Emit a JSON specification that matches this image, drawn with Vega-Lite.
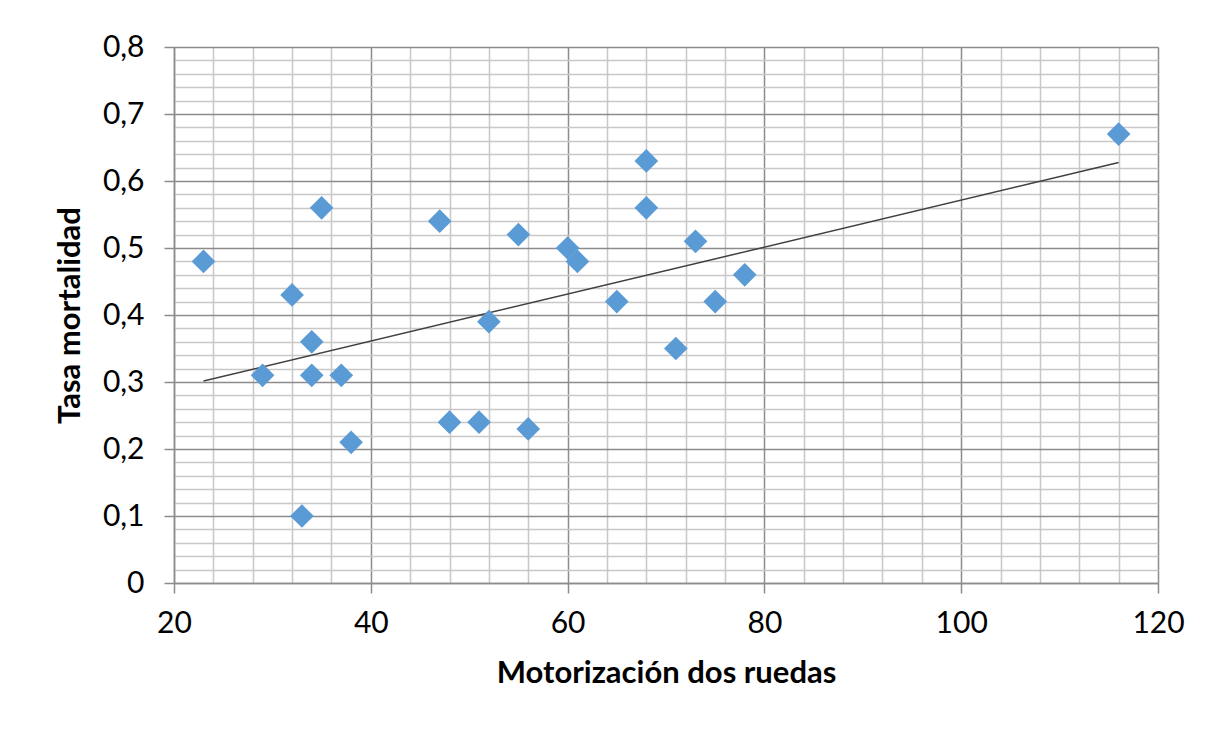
{
  "$schema": "https://vega.github.io/schema/vega-lite/v6.json",
  "autosize": "none",
  "width": 984,
  "height": 536,
  "padding": {"left": 174, "top": 47, "right": 58, "bottom": 153},
  "background": "white",
  "config": {"view": {"stroke": null}, "font": "Lato"},
  "datasets": {
    "points": [
      {"moto": 23, "tasa": 0.48},
      {"moto": 29, "tasa": 0.31},
      {"moto": 32, "tasa": 0.43},
      {"moto": 33, "tasa": 0.10},
      {"moto": 34, "tasa": 0.36},
      {"moto": 34, "tasa": 0.31},
      {"moto": 35, "tasa": 0.56},
      {"moto": 37, "tasa": 0.31},
      {"moto": 38, "tasa": 0.21},
      {"moto": 47, "tasa": 0.54},
      {"moto": 48, "tasa": 0.24},
      {"moto": 51, "tasa": 0.24},
      {"moto": 52, "tasa": 0.39},
      {"moto": 55, "tasa": 0.52},
      {"moto": 56, "tasa": 0.23},
      {"moto": 60, "tasa": 0.50},
      {"moto": 61, "tasa": 0.48},
      {"moto": 65, "tasa": 0.42},
      {"moto": 68, "tasa": 0.63},
      {"moto": 68, "tasa": 0.56},
      {"moto": 71, "tasa": 0.35},
      {"moto": 73, "tasa": 0.51},
      {"moto": 75, "tasa": 0.42},
      {"moto": 78, "tasa": 0.46},
      {"moto": 116, "tasa": 0.67}
    ],
    "trend": [
      {"moto": 23, "tasa": 0.3015},
      {"moto": 116, "tasa": 0.6275}
    ]
  },
  "layer": [
    {
      "data": {"name": "trend"},
      "mark": {"type": "line", "color": "#404040", "strokeWidth": 1.5},
      "encoding": {
        "x": {
          "field": "moto", "type": "quantitative",
          "scale": {"domain": [20, 120], "nice": false, "zero": false},
          "axis": {
            "title": "Motorización dos ruedas",
            "titleFont": "Lato", "titleFontSize": 31, "titleFontWeight": "bold", "titleColor": "#000000",
            "titlePadding": 20,
            "tickCount": 500,
            "values": [20,24,28,32,36,40,44,48,52,56,60,64,68,72,76,80,84,88,92,96,100,104,108,112,116,120],
            "labelExpr": "datum.value % 20 === 0 ? format(datum.value, 'd') : ''",
            "labelFont": "Lato", "labelFontSize": 30, "labelColor": "#000000", "labelPadding": 15,
            "labelFlush": false, "labelOverlap": false,
            "domainColor": "#8c8c8c", "domainWidth": 1.5,
            "tickSize": 10, "tickWidth": 1.5,
            "tickColor": {"condition": {"test": "datum.value % 20 === 0", "value": "#8c8c8c"}, "value": "rgba(0,0,0,0)"},
            "grid": true,
            "gridColor": {"condition": {"test": "datum.value % 20 === 0", "value": "#8c8c8c"}, "value": "#c8c8c8"},
            "gridWidth": 1.5
          }
        },
        "y": {
          "field": "tasa", "type": "quantitative",
          "scale": {"domain": [0, 0.8], "nice": false},
          "axis": {
            "title": "Tasa mortalidad",
            "titleFont": "Lato", "titleFontSize": 31, "titleFontWeight": "bold", "titleColor": "#000000",
            "titlePadding": 16,
            "tickCount": 500,
            "values": [0,0.02,0.04,0.06,0.08,0.1,0.12,0.14,0.16,0.18,0.2,0.22,0.24,0.26,0.28,0.3,0.32,0.34,0.36,0.38,0.4,0.42,0.44,0.46,0.48,0.5,0.52,0.54,0.56,0.58,0.6,0.62,0.64,0.66,0.68,0.7,0.72,0.74,0.76,0.78,0.8],
            "labelExpr": "abs(datum.value*10 - round(datum.value*10)) < 0.000001 ? (datum.value === 0 ? '0' : replace(format(datum.value, '.1f'), '.', ',')) : ''",
            "labelFont": "Lato", "labelFontSize": 30, "labelColor": "#000000", "labelPadding": 20,
            "labelOverlap": false, "labelFlush": false,
            "domainColor": "#8c8c8c", "domainWidth": 1.5,
            "tickSize": 10, "tickWidth": 1.5,
            "tickColor": {"condition": {"test": "abs(datum.value*10 - round(datum.value*10)) < 0.000001", "value": "#8c8c8c"}, "value": "rgba(0,0,0,0)"},
            "grid": true,
            "gridColor": {"condition": {"test": "abs(datum.value*10 - round(datum.value*10)) < 0.000001", "value": "#8c8c8c"}, "value": "#c8c8c8"},
            "gridWidth": 1.5
          }
        }
      }
    },
    {
      "data": {"name": "points"},
      "mark": {"type": "point", "shape": "diamond", "filled": true, "opacity": 1, "color": "#5b9bd5", "size": 560},
      "encoding": {
        "x": {"field": "moto", "type": "quantitative"},
        "y": {"field": "tasa", "type": "quantitative"}
      }
    }
  ]
}
